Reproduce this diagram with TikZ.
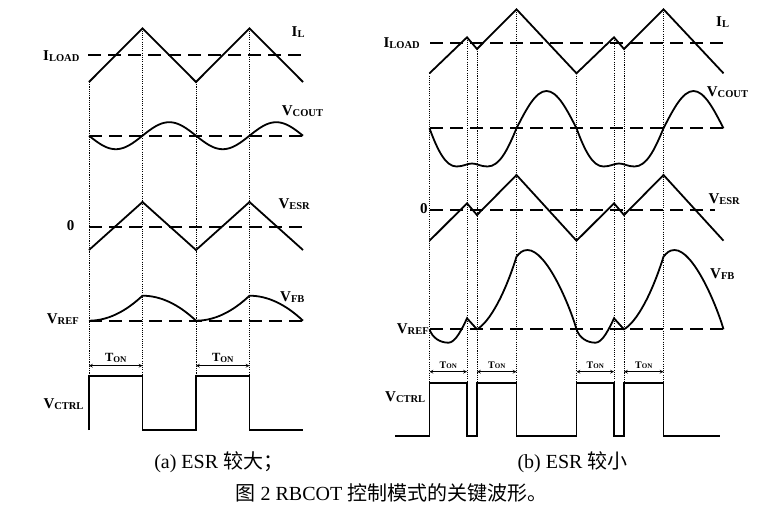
\documentclass[tikz,border=0pt]{standalone}
\usepackage{fontspec}
\setmainfont{Liberation Serif}
\newfontfamily\cjk{Noto Sans CJK SC}
\usepackage{tikz}
\usetikzlibrary{arrows}

\newcommand{\sig}[2]{\textbf{#1\raisebox{-1pt}{\fontsize{10.5}{10.5}\selectfont #2}}}
\newcommand{\ton}[2]{\textbf{{\fontsize{#1}{#1}\selectfont T}\raisebox{-0.5pt}{\fontsize{#2}{#2}\selectfont ON}}}

\tikzset{
  wave/.style={line width=1.8pt, line join=miter},
  level/.style={line width=1.8pt, dash pattern=on 13pt off 7pt},
  guide/.style={line width=0.9pt, dash pattern=on 1.1pt off 1.1pt},
  span/.style={<->, >=stealth, line width=0.7pt},
  lbl/.style={inner sep=0pt, anchor=base west, font=\fontsize{15}{15}\selectfont},
  tlbl/.style={inner sep=0pt, anchor=base},
  capt/.style={inner sep=0pt, anchor=base, font=\fontsize{20}{20}\selectfont},
}

\begin{document}
\begin{tikzpicture}[x=1pt, y=-1pt]
    \useasboundingbox (0,0) rectangle (783,522);

    % (a)
    \foreach \s in {89,196} {
        \draw[guide] (\s,82) -- (\s,375.7);
        \draw[guide] (\s+53.5,28.3) -- (\s+53.5,375.7);
    }
    \draw[wave] (89,82) \foreach \s in {89,196} { -- (\s+53.5,28.3) -- (\s+107,82) };
    \draw[level] (88,55) -- (303,55);
    \draw[wave] plot[domain=89:303, samples=100, smooth] (\x,{135.7+13.5*sin((\x-89)/53.5*180)});
    \draw[level] (89,135.7) -- (303,135.7);
    \draw[wave] (89,250) \foreach \s in {89,196} { -- (\s+53.5,202) -- (\s+107,250) };
    \draw[level] (89,226.7) -- (303,226.7);
    \draw[wave] (89,320.7) \foreach \s in {89,196} { .. controls (\s+17.8,320.7) and (\s+35.7,312.4) .. (\s+53.5,295.7) .. controls (\s+71.3,295.7) and (\s+89.2,304) .. (\s+107,320.7) };
    \draw[level] (89,320.7) -- (303,320.7);
    \draw[wave] (89,430) \foreach \s in {89,196} { -- (\s,375.7) -- (\s+53.5,375.7) -- (\s+53.5,430) -- (\s+107,430) };
    \foreach \s/\n in {89/1,196/2} {
        \coordinate (onA\n) at (\s,365.7);
        \coordinate (offA\n) at (\s+53.5,365.7);
        \draw[span] (onA\n) -- (offA\n);
        \node[tlbl] (tonA\n) at (\s+26.75,361.7) {\ton{12.5}{8.75}};
    }

    \node[lbl] (ilA) at (291.5,36) {\sig{I}{L}};
    \node[lbl] (iloadA) at (43,60.7) {\sig{I}{LOAD}};
    \node[lbl] (vcoutA) at (281.7,115) {\sig{V}{COUT}};
    \node[lbl] (vesrA) at (278.3,208.3) {\sig{V}{ESR}};
    \node[lbl] (zeroA) at (66.7,230.7) {\textbf{0}};
    \node[lbl] (vfbA) at (280,301.7) {\sig{V}{FB}};
    \node[lbl] (vrefA) at (46.7,323.3) {\sig{V}{REF}};
    \node[lbl] (vctrlA) at (43.3,408.3) {\sig{V}{CTRL}};
    \node[capt] (capA) at (218.7,468.3) {(a) ESR {\cjk 较大；}};

    % (b)
    \foreach \s in {429.5,576.5} {
        \draw[guide] (\s,73.3) -- (\s,382.7);
        \draw[guide] (\s+37.5,37.3) -- (\s+37.5,382.7);
        \draw[guide] (\s+47.5,49) -- (\s+47.5,382.7);
        \draw[guide] (\s+87,9.3) -- (\s+87,382.7);
    }
    \draw[wave] (429.5,73.3) \foreach \s in {429.5,576.5} { -- (\s+37.5,37.3) -- (\s+47.5,49) -- (\s+87,9.3) -- (\s+147,73.3) };
    \draw[level] (430,43) -- (725,43);
    \draw[wave] (429.5,128.3) \foreach \s in {429.5,576.5} { .. controls (\s+8,150) and (\s+16,166.5) .. (\s+27,166.5) .. controls (\s+34,166.5) and (\s+37.5,163.5) .. (\s+42.5,163.5) .. controls (\s+47.5,163.5) and (\s+51,166.5) .. (\s+58,166.5) .. controls (\s+70,166.5) and (\s+78,150) .. (\s+87,128.3) .. controls (\s+96.8,109.2) and (\s+106.1,91) .. (\s+117,91) .. controls (\s+127.9,91) and (\s+137.2,109.2) .. (\s+147,128.3) };
    \draw[level] (430,128.3) -- (725,128.3);
    \draw[wave] (429.5,240.7) \foreach \s in {429.5,576.5} { -- (\s+37.5,203.3) -- (\s+47.5,215) -- (\s+87,175) -- (\s+147,240.7) };
    \draw[level] (430,209.6) -- (715,209.6);
    \draw[wave] (429.5,329.3) \foreach \s in {429.5,576.5} { .. controls (\s+3,338.3) and (\s+11,342.7) .. (\s+19,342.7) .. controls (\s+26,342.7) and (\s+33,328) .. (\s+37.5,318.3) -- (\s+47.5,329.3) .. controls (\s+60,322) and (\s+75,295) .. (\s+87,256.7) .. controls (\s+90,253) and (\s+93,250) .. (\s+98,250) .. controls (\s+117,250) and (\s+140,305) .. (\s+147,329.3) };
    \draw[level] (430,329.3) -- (725,329.3);
    \draw[wave] (395,436) \foreach \s in {429.5,576.5} { -- (\s,436) -- (\s,382.7) -- (\s+37.5,382.7) -- (\s+37.5,436) -- (\s+47.5,436) -- (\s+47.5,382.7) -- (\s+87,382.7) -- (\s+87,436) } -- (720,436);
    \foreach \s/\n in {429.5/1,576.5/2} {
        \coordinate (onB\n) at (\s,371.7);
        \coordinate (offB\n) at (\s+37.5,371.7);
        \coordinate (reonB\n) at (\s+47.5,371.7);
        \coordinate (reoffB\n) at (\s+87,371.7);
        \draw[span] (onB\n) -- (offB\n);
        \draw[span] (reonB\n) -- (reoffB\n);
        \node[tlbl] (tonB\n) at (\s+18.75,368.3) {\ton{10}{7}};
        \node[tlbl] (retonB\n) at (\s+67.25,368.3) {\ton{10}{7}};
    }

    \node[lbl] (ilB) at (716,26) {\sig{I}{L}};
    \node[lbl] (iloadB) at (383.3,47) {\sig{I}{LOAD}};
    \node[lbl] (vcoutB) at (706.7,96.7) {\sig{V}{COUT}};
    \node[lbl] (vesrB) at (708.3,203.3) {\sig{V}{ESR}};
    \node[lbl] (zeroB) at (420,213.3) {\textbf{0}};
    \node[lbl] (vfbB) at (710,278.3) {\sig{V}{FB}};
    \node[lbl] (vrefB) at (396.7,333.3) {\sig{V}{REF}};
    \node[lbl] (vctrlB) at (385,401.7) {\sig{V}{CTRL}};
    \node[capt] (capB) at (572.5,468.3) {(b) ESR {\cjk 较小}};

    \node[capt] (title) at (391.5,500) {{\cjk 图} 2 RBCOT {\cjk 控制模式的关键波形。}};
\end{tikzpicture}
\end{document}
